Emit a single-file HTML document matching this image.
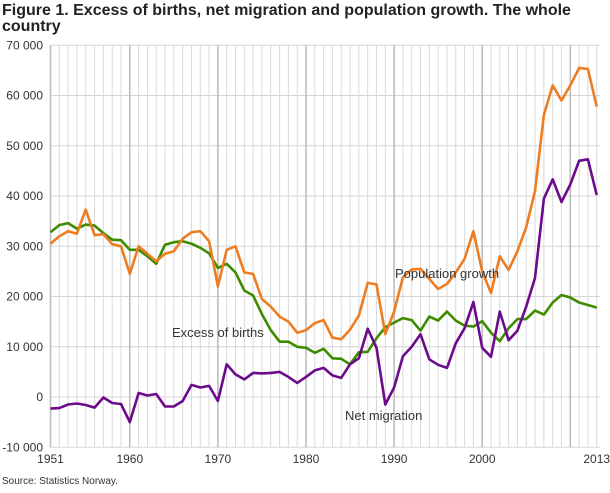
<!DOCTYPE html>
<html><head><meta charset="utf-8"><style>
body{margin:0;background:#fff;font-family:"Liberation Sans","DejaVu Sans",sans-serif;}
</style></head><body>
<svg id="s" width="610" height="488" xmlns="http://www.w3.org/2000/svg" font-family="Liberation Sans, DejaVu Sans, sans-serif">
<text x="2" y="15" font-size="16" font-weight="bold" fill="#222">Figure 1. Excess of births, net migration and population growth. The whole</text>
<text x="2" y="31" font-size="16" font-weight="bold" fill="#222">country</text>
<g id="grid"></g>
<g id="lines"></g>
<text x="395" y="278" font-size="13" fill="#333">Population growth</text>
<text x="172" y="337" font-size="13" fill="#333">Excess of births</text>
<text x="345" y="420" font-size="13" fill="#333">Net migration</text>
<text x="2" y="484" font-size="10" fill="#333">Source: Statistics Norway.</text>
</svg>
<script>
var ns="http://www.w3.org/2000/svg";
function X(y){return 50.5+(y-1951)*8.81;}
function Y(v){return 397-v*0.005025;}
var g=document.getElementById('grid'),L=document.getElementById('lines'),s=document.getElementById('s');
function el(t,a,p){var e=document.createElementNS(ns,t);for(var k in a)e.setAttribute(k,a[k]);(p||g).appendChild(e);return e;}
for(var v=-10000;v<=70000;v+=10000){el('line',{x1:50,x2:600,y1:Y(v),y2:Y(v),stroke:'#d6d6d6','stroke-width':1});
var t=el('text',{x:43,y:Y(v)+4,'font-size':12,fill:'#333','text-anchor':'end'});t.textContent=(v<0?'-':'')+(Math.abs(v)>=10000?Math.floor(Math.abs(v)/1000)+' 000':'0');}
for(var y=1951;y<=2013;y++){var d=(y%10==0)||y==1951;el('line',{x1:X(y),x2:X(y),y1:Y(70000),y2:Y(-10000),stroke:d?'#bdbdbd':'#d9d9d9','stroke-width':d?1.6:1});}
[1951,1960,1970,1980,1990,2000,2013].forEach(function(y){var t=el('text',{x:X(y),y:463,'font-size':12,fill:'#333','text-anchor':'middle'});t.textContent=y;});
var orange=[30500,32000,33000,32500,37300,32200,32400,30400,30000,24500,30000,28500,27000,28500,29000,31500,32800,33000,31000,22000,29300,30000,24800,24500,19500,18000,16000,15000,12800,13300,14700,15300,11800,11500,13400,16200,22700,22400,12500,17000,23800,25400,25500,23500,21500,22500,24800,27500,33000,25000,20700,28000,25300,29000,33800,41000,56200,62000,59000,62000,65500,65300,57800];
var green=[32800,34200,34600,33500,34300,34100,32600,31300,31200,29300,29300,28000,26500,30300,30800,31000,30500,29700,28600,25700,26500,24800,21200,20200,16500,13300,11000,11000,10000,9800,8800,9600,7700,7600,6500,8900,9000,11700,13900,14800,15700,15300,13200,16000,15200,17000,15200,14200,14000,15100,12800,11100,13700,15500,15500,17200,16400,18800,20300,19800,18800,18300,17800];
var purple=[-2300,-2200,-1500,-1300,-1600,-2100,-100,-1200,-1400,-5000,800,300,600,-1900,-1900,-800,2400,1900,2200,-800,6500,4500,3500,4800,4700,4800,5000,4000,2800,4000,5300,5800,4300,3800,6500,7700,13600,9800,-1500,1900,8100,10000,12500,7500,6400,5800,10700,13700,18900,9800,8000,17000,11300,13200,18000,23700,39500,43300,38800,42300,47000,47300,40200];
[[green,'#3d8c00'],[purple,'#6c0a8c'],[orange,'#ee7d22']].forEach(function(a){var p=a[0].map(function(v,i){return X(1951+i).toFixed(1)+','+Y(v).toFixed(1);}).join(' ');el('polyline',{points:p,fill:'none',stroke:a[1],'stroke-width':2.6,'stroke-linejoin':'round'},L);});
</script>
</body></html>
